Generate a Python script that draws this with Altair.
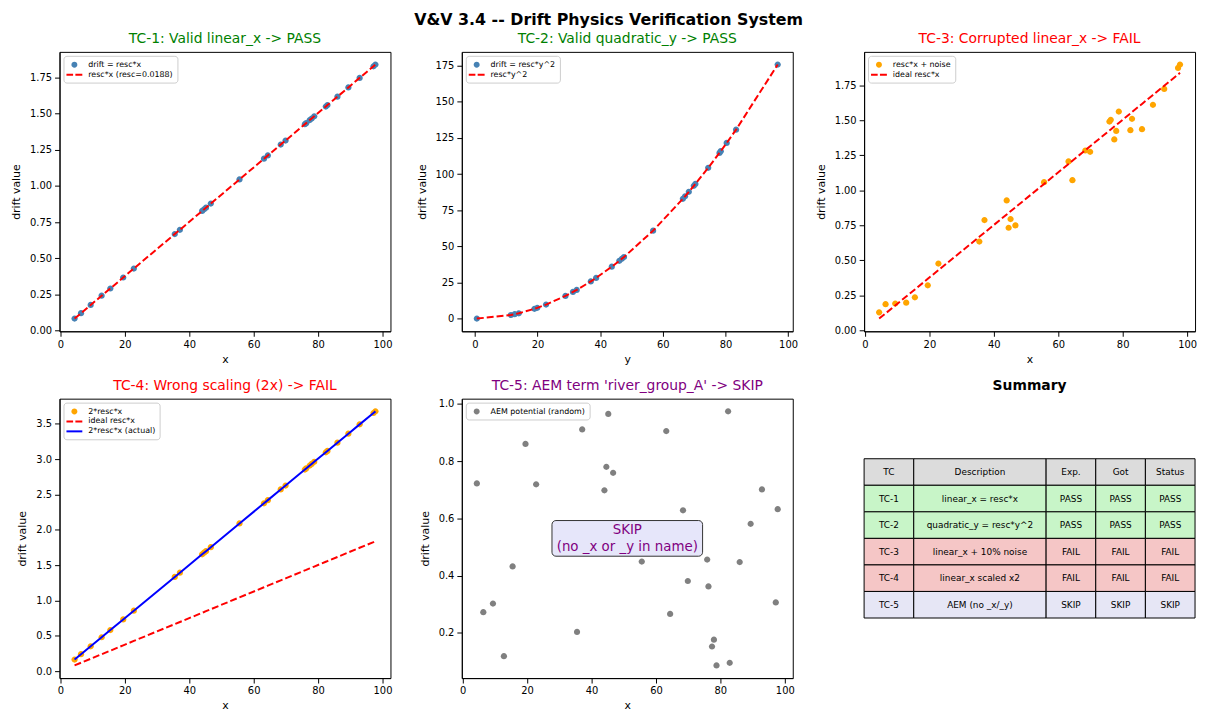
import altair as alt
import pandas as pd

FONT = "DejaVu Sans"

# ---------------- data ----------------
x_vals = [4.4, 6.4, 9.4, 12.8, 15.5, 19.5, 22.8, 35.5, 37.1, 44.0, 44.6, 45.2, 46.7, 55.6,
          63.2, 64.4, 68.4, 69.9, 75.9, 76.3, 77.4, 78.0, 78.8, 82.4, 82.9, 86.0, 89.4,
          92.9, 97.2, 97.8]
tc1_drift = [0.083, 0.120, 0.177, 0.241, 0.291, 0.367, 0.429, 0.667, 0.697, 0.827, 0.838,
             0.850, 0.878, 1.045, 1.188, 1.211, 1.286, 1.314, 1.427, 1.434, 1.455, 1.466,
             1.481, 1.549, 1.559, 1.617, 1.681, 1.747, 1.827, 1.839]
tc2_y = [0.6, 11.5, 12.7, 14.0, 19.0, 19.9, 22.7, 28.9, 31.3, 32.5, 37.0, 38.7, 43.7, 46.1,
         46.9, 47.6, 56.9, 66.4, 67.1, 68.3, 69.9, 70.4, 74.5, 78.1, 78.5, 80.4, 83.4, 96.7]
tc2_drift = [0.007, 2.49, 3.03, 3.68, 6.79, 7.45, 9.69, 15.70, 18.42, 19.86, 25.74, 28.16,
             35.90, 39.95, 41.35, 42.60, 60.87, 82.89, 84.64, 87.70, 91.86, 93.18, 104.34,
             114.67, 115.85, 121.53, 130.77, 175.80]
tc3_noisy = [0.128, 0.186, 0.190, 0.197, 0.235, 0.321, 0.476, 0.633, 0.787, 0.927, 0.732,
             0.794, 0.749, 1.058, 1.206, 1.072, 1.284, 1.275, 1.491, 1.503, 1.363, 1.424,
             1.562, 1.429, 1.510, 1.436, 1.610, 1.724, 1.874, 1.898]
tc4_drift = [0.165, 0.241, 0.353, 0.481, 0.583, 0.733, 0.857, 1.335, 1.395, 1.654, 1.677,
             1.699, 1.756, 2.091, 2.376, 2.421, 2.572, 2.628, 2.854, 2.869, 2.910, 2.933,
             2.963, 3.098, 3.117, 3.234, 3.361, 3.493, 3.654, 3.677]
tc5_aem = [0.722, 0.272, 0.302, 0.118, 0.432, 0.860, 0.719, 0.203, 0.911, 0.698, 0.780,
           0.965, 0.759, 0.449, 0.905, 0.266, 0.628, 0.381, 0.456, 0.362, 0.152, 0.176,
           0.086, 0.974, 0.095, 0.447, 0.581, 0.701, 0.306, 0.632]

main_title = "V&V 3.4 -- Drift Physics Verification System"
titles = ["TC-1: Valid linear_x -> PASS", "TC-2: Valid quadratic_y -> PASS",
          "TC-3: Corrupted linear_x -> FAIL", "TC-4: Wrong scaling (2x) -> FAIL",
          "TC-5: AEM term 'river_group_A' -> SKIP", "Summary"]
skip_text = ["SKIP", "(no _x or _y in name)"]

table_header = ["TC", "Description", "Exp.", "Got", "Status"]
table_rows = [
    ["TC-1", "linear_x = resc*x", "PASS", "PASS", "PASS"],
    ["TC-2", "quadratic_y = resc*y^2", "PASS", "PASS", "PASS"],
    ["TC-3", "linear_x + 10% noise", "FAIL", "FAIL", "FAIL"],
    ["TC-4", "linear_x scaled x2", "FAIL", "FAIL", "FAIL"],
    ["TC-5", "AEM (no _x/_y)", "SKIP", "SKIP", "SKIP"],
]

# ---------------- styles ----------------
W, H = 334, 282
GREEN, RED, PURPLE = "#008000", "#ff0000", "#800080"
STEEL, ORANGE, GRAY, BLUE = "#4682b4", "#ffa500", "#808080", "#0000ff"
CIRCLE = "M0.6,0A0.6,0.6,0,1,1,-0.6,0A0.6,0.6,0,1,1,0.6,0Z"
DASH = "M-1.6,-0.2H-0.26V0.2H-1.6Z M0.2,-0.2H1.6V0.2H0.2Z"
SOLID = "M-1.6,-0.2H1.6V0.2H-1.6Z"
status_fill = {"HEAD": "#dcdcdc", "PASS": "#c8f5c8", "FAIL": "#f5c6c6", "SKIP": "#e6e6f5"}
col_widths = [0.15, 0.40, 0.15, 0.15, 0.15]
row_h = 0.095


def padded(vals, m=0.05):
    lo, hi = min(vals), max(vals)
    r = hi - lo
    return [lo - m * r, hi + m * r]


def leg():
    return alt.Legend(orient="top-left", title=None, fillColor="white", strokeColor="#cccccc",
                      cornerRadius=3, padding=4, offset=4, labelFontSize=8, labelFont=FONT,
                      symbolSize=100, rowPadding=1, labelOffset=9, symbolOffset=2,
                      symbolStrokeWidth=0, symbolOpacity=1, labelLimit=400, labelColor="black")


def enc(xdom, ydom, xticks, yticks, yfmt, xtitle):
    X = alt.X("x:Q", scale=alt.Scale(domain=xdom, nice=False, zero=False),
              axis=alt.Axis(values=xticks, format="d", title=xtitle))
    Y = alt.Y("y:Q", scale=alt.Scale(domain=ydom, nice=False, zero=False),
              axis=alt.Axis(values=yticks, format=yfmt, title="drift value"))
    return X, Y


def ptitle(text, color, bold=False):
    return alt.TitleParams(text, color=color, fontSize=14, font=FONT,
                           fontWeight="bold" if bold else "normal", offset=6)


def points(xs, ys, label, labels, colors, shapes, X, Y):
    df = pd.DataFrame({"x": xs, "y": ys, "series": label})
    return alt.Chart(df).mark_point(filled=True, size=110, opacity=1, strokeWidth=0).encode(
        x=X, y=Y,
        color=alt.Color("series:N", scale=alt.Scale(domain=labels, range=colors), legend=leg()),
        shape=alt.Shape("series:N", scale=alt.Scale(domain=labels, range=shapes), legend=leg()),
    )


def line(xs, ys, color, X, Y, dashed=True):
    df = pd.DataFrame({"x": xs, "y": ys})
    kw = dict(color=color, strokeWidth=2)
    if dashed:
        kw["strokeDash"] = [7, 3]
    return alt.Chart(df).mark_line(**kw).encode(x=X, y=Y)


ticks100 = [0, 20, 40, 60, 80, 100]
ticks175 = [0, 0.25, 0.5, 0.75, 1.0, 1.25, 1.5, 1.75]
box = alt.ViewBackground(stroke="black", strokeWidth=1)

# TC-1
X, Y = enc(padded(x_vals), padded(tc1_drift), ticks100, ticks175, ".2f", "x")
lab1 = ["drift = resc*x", "resc*x (resc=0.0188)"]
p1 = alt.layer(
    points(x_vals, tc1_drift, lab1[0], lab1, [STEEL, RED], [CIRCLE, DASH], X, Y),
    line(x_vals, tc1_drift, RED, X, Y),
).properties(width=W, height=H, title=ptitle(titles[0], GREEN), view=box)

# TC-2
X, Y = enc(padded(tc2_y), padded(tc2_drift), ticks100, [0, 25, 50, 75, 100, 125, 150, 175], "d", "y")
lab2 = ["drift = resc*y^2", "resc*y^2"]
p2 = alt.layer(
    points(tc2_y, tc2_drift, lab2[0], lab2, [STEEL, RED], [CIRCLE, DASH], X, Y),
    line(tc2_y, tc2_drift, RED, X, Y),
).properties(width=W, height=H, title=ptitle(titles[1], GREEN), view=box)

# TC-3
X, Y = enc(padded(x_vals), padded(tc3_noisy + tc1_drift), ticks100, ticks175, ".2f", "x")
lab3 = ["resc*x + noise", "ideal resc*x"]
p3 = alt.layer(
    points(x_vals, tc3_noisy, lab3[0], lab3, [ORANGE, RED], [CIRCLE, DASH], X, Y),
    line(x_vals, tc1_drift, RED, X, Y),
).properties(width=W, height=H, title=ptitle(titles[2], RED), view=box)

# TC-4
X, Y = enc(padded(x_vals), padded(tc4_drift + tc1_drift), ticks100,
           [0, 0.5, 1.0, 1.5, 2.0, 2.5, 3.0, 3.5], ".1f", "x")
lab4 = ["2*resc*x", "ideal resc*x", "2*resc*x (actual)"]
p4 = alt.layer(
    points(x_vals, tc4_drift, lab4[0], lab4, [ORANGE, RED, BLUE], [CIRCLE, DASH, SOLID], X, Y),
    line(x_vals, tc1_drift, RED, X, Y),
    line(x_vals, tc4_drift, BLUE, X, Y, dashed=False),
).properties(width=W, height=H, title=ptitle(titles[3], RED), view=box)

# TC-5
X, Y = enc(padded(x_vals), padded(tc5_aem), ticks100, [0.2, 0.4, 0.6, 0.8, 1.0], ".1f", "x")
lab5 = ["AEM potential (random)"]
one = pd.DataFrame({"k": [0]})
skip_box = alt.Chart(one).mark_rect(fill="#e6e6fa", stroke="#333333", strokeWidth=1,
                                    cornerRadius=4).encode(
    x=alt.value(W / 2 - 76), x2=alt.value(W / 2 + 76),
    y=alt.value(H / 2 - 18), y2=alt.value(H / 2 + 18))
skip_lbl = alt.Chart(one).mark_text(text=skip_text, fontSize=13.5, color=PURPLE, font=FONT,
                                    align="center", baseline="middle", lineHeight=17).encode(
    x=alt.value(W / 2), y=alt.value(H / 2 - 8.5))
p5 = alt.layer(
    points(x_vals, tc5_aem, lab5[0], lab5, [GRAY], [CIRCLE], X, Y),
    skip_box, skip_lbl,
).properties(width=W, height=H, title=ptitle(titles[4], PURPLE), view=box)

# Summary table
cells = []
all_rows = [table_header] + table_rows
kinds = ["HEAD"] + [r[4] for r in table_rows]
n = len(all_rows)
top0 = 0.5 + n * row_h / 2
for r, (row, kind) in enumerate(zip(all_rows, kinds)):
    left = 0.0
    for c, txt in enumerate(row):
        cells.append({"x0": left, "x1": left + col_widths[c], "xm": left + col_widths[c] / 2,
                      "y0": top0 - (r + 1) * row_h, "y1": top0 - r * row_h,
                      "ym": top0 - (r + 0.5) * row_h, "text": txt, "fill": status_fill[kind]})
        left += col_widths[c]
tdf = pd.DataFrame(cells)
TX = alt.Scale(domain=[0, 1], nice=False, zero=False)
rects = alt.Chart(tdf).mark_rect(stroke="black", strokeWidth=1).encode(
    x=alt.X("x0:Q", scale=TX, axis=None), x2="x1",
    y=alt.Y("y0:Q", scale=TX, axis=None), y2="y1",
    fill=alt.Fill("fill:N", scale=None))
texts = alt.Chart(tdf).mark_text(fontSize=9, font=FONT, color="black").encode(
    x=alt.X("xm:Q", scale=TX, axis=None), y=alt.Y("ym:Q", scale=TX, axis=None), text="text:N")
p6 = alt.layer(rects, texts).properties(
    width=W, height=H, title=alt.TitleParams(titles[5], color="black", fontSize=14, font=FONT,
                                             fontWeight="bold", offset=6),
    view=alt.ViewBackground(stroke=None))

chart = alt.concat(
    p1, p2, p3, p4, p5, p6, columns=3, spacing={"row": 68, "column": 72}, bounds="flush",
    title=alt.TitleParams(main_title, fontSize=16, fontWeight="bold", font=FONT,
                          anchor="middle", color="black", offset=4, dx=5),
).resolve_scale(
    color="independent", shape="independent"
).configure(
    font=FONT, padding={"left": 2, "top": 0, "right": 2, "bottom": 2}, background="white"
).configure_axis(
    labelFont=FONT, titleFont=FONT, labelFontSize=10, titleFontSize=11, labelColor="black",
    titleColor="black", tickColor="black", domainColor="black", tickSize=5, labelPadding=3,
    titlePadding=4, grid=False, titleFontWeight="normal", labelFlush=False, labelOverlap=False,
).configure_axisY(titlePadding=8)

chart.save("out.html", embed_options={"renderer": "svg", "actions": False})
